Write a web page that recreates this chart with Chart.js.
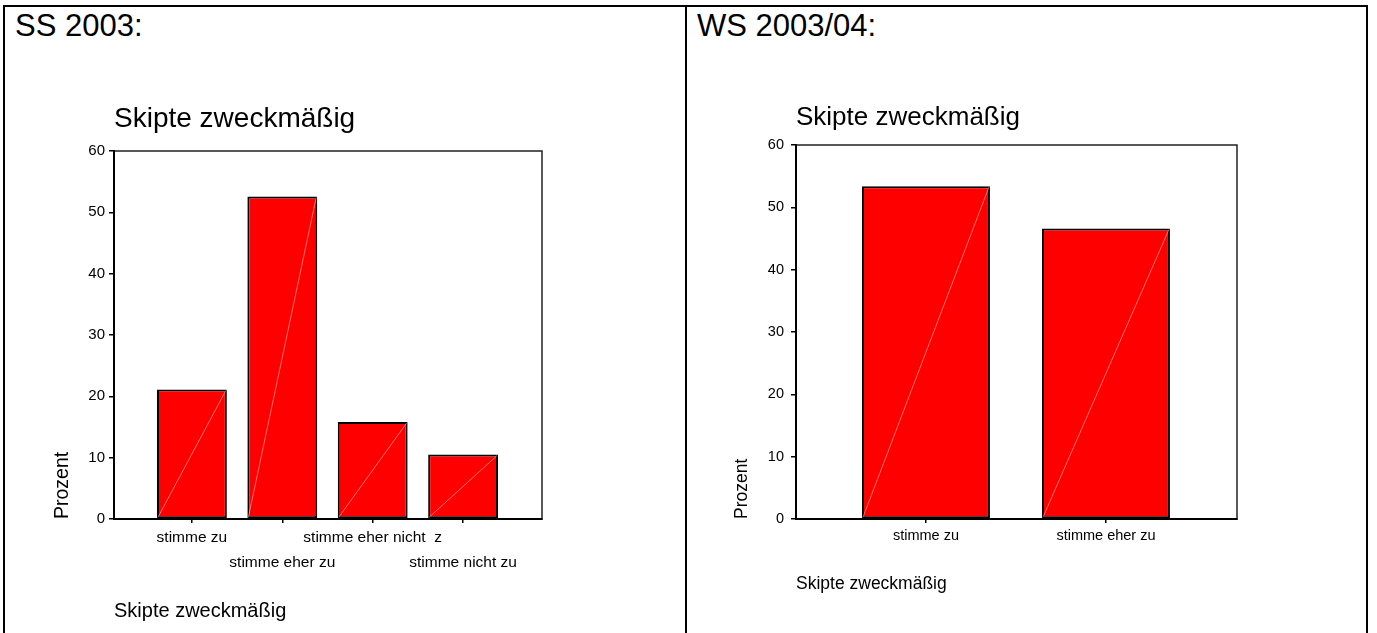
<!DOCTYPE html>
<html>
<head>
<meta charset="utf-8">
<script src="https://cdn.jsdelivr.net/npm/chart.js@4"></script>
<style>
  html, body { margin: 0; padding: 0; background: #fff; overflow: hidden; }
  body { width: 1377px; height: 633px; position: relative; font-family: "Liberation Sans", Arial, sans-serif; }
  .box { position: absolute; border: 2px solid #000; border-bottom: none; }
  .head { position: absolute; font-size: 31px; line-height: 1; color: #000; white-space: pre; }
  canvas { position: absolute; }
</style>
</head>
<body>
<div class="box" style="left:3px; top:5px; width:1361px; height:700px;"></div>
<div style="position:absolute; left:685px; top:5px; width:2px; height:700px; background:#000;"></div>
<div class="head" style="left:15px; top:10px;">SS 2003:</div>
<div class="head" style="left:697px; top:10px;">WS 2003/04:</div>
<canvas id="ss" width="676" height="577" style="left:5px; top:56px;"></canvas>
<canvas id="ws" width="680" height="577" style="left:687px; top:56px;"></canvas>
<script>
const chartTitle = 'Skipte zweckmäßig';
const yTitle = 'Prozent';
const yTicks = [0, 10, 20, 30, 40, 50, 60];

const ssCategories = ['stimme zu', 'stimme eher zu', 'stimme eher nicht  z', 'stimme nicht zu'];
const ssPercent = [21.1, 52.6, 15.8, 10.5];

const wsCategories = ['stimme zu', 'stimme eher zu'];
const wsPercent = [53.4, 46.6];

Chart.defaults.font.family = '"Liberation Sans", Arial, sans-serif';
Chart.defaults.color = '#000';

// plot frame + the faint diagonal SPSS leaves in each bar
const barDecor = {
  id: 'barDecor',
  beforeDraw(chart) {
    const a = chart.chartArea, ctx = chart.ctx;
    ctx.save();
    ctx.strokeStyle = '#222';
    ctx.lineWidth = 1.5;
    ctx.strokeRect(a.left, a.top, a.right - a.left, a.bottom - a.top);
    ctx.restore();
  },
  afterDatasetsDraw(chart) {
    const ctx = chart.ctx;
    ctx.save();
    ctx.strokeStyle = 'rgba(255,200,200,0.7)';
    ctx.lineWidth = 0.8;
    chart.getDatasetMeta(0).data.forEach(bar => {
      const {x, y, base, width} = bar.getProps(['x', 'y', 'base', 'width'], true);
      ctx.beginPath();
      ctx.moveTo(x - width / 2 + 1, base - 1);
      ctx.lineTo(x + width / 2 - 1, y + 1);
      ctx.stroke();
    });
    ctx.restore();
  }
};

function buildChart(id, cats, vals, cfg) {
  const points = vals.map((v, i) => ({x: i + 1, y: v}));
  return new Chart(document.getElementById(id), {
    type: 'bar',
    data: {
      datasets: [{
        data: points,
        backgroundColor: '#ff0000',
        borderColor: '#000',
        borderWidth: 2,
        borderSkipped: false,
        barPercentage: cfg.barPct,
        categoryPercentage: 1
      }]
    },
    options: {
      responsive: false,
      animation: false,
      layout: { padding: { left: 0, top: 0, right: cfg.padRight, bottom: 0 } },
      plugins: {
        legend: { display: false },
        tooltip: { enabled: false },
        title: {
          display: true,
          text: chartTitle,
          align: 'start',
          fullSize: false,
          color: '#000',
          font: { size: cfg.titleSize, weight: 'normal', lineHeight: 1.2 },
          padding: { top: cfg.titleTop, bottom: cfg.titleBottom }
        }
      },
      scales: {
        x: {
          type: 'linear',
          min: cfg.xMin,
          max: cfg.xMax,
          offset: false,
          afterBuildTicks: s => { s.ticks = cats.map((c, i) => ({value: i + 1})); },
          afterFit: s => { s.height = 114; },
          ticks: {
            autoSkip: false,
            maxRotation: 0,
            minRotation: 0,
            padding: cfg.xTickPad,
            color: '#000',
            font: { size: cfg.xTickSize, lineHeight: cfg.xTickLH },
            callback: (v, i) => (cfg.stagger && i % 2 === 1) ? ['', cats[i]] : cats[i]
          },
          grid: { display: true, drawOnChartArea: false, drawTicks: true, tickLength: 4, color: '#000', lineWidth: 1.5, offset: false },
          border: { display: true, color: '#000', width: 2 },
          title: {
            display: true,
            text: chartTitle,
            align: 'start',
            color: '#000',
            font: { size: cfg.xTitleSize, lineHeight: 1.2 },
            padding: { top: 0, bottom: cfg.xTitlePad }
          }
        },
        y: {
          min: 0,
          max: 60,
          afterBuildTicks: s => { s.ticks = yTicks.map(v => ({value: v})); },
          afterFit: s => { s.width = 109; },
          ticks: { padding: cfg.yTickPad, color: '#000', font: { size: cfg.yTickSize } },
          grid: { display: true, drawOnChartArea: false, drawTicks: true, tickLength: 5, color: '#000', lineWidth: 1.5 },
          border: { display: true, color: '#000', width: 2 },
          title: {
            display: true,
            text: yTitle,
            align: 'start',
            color: '#000',
            font: { size: cfg.yTitleSize, lineHeight: 1.2 },
            padding: { top: cfg.yTitlePad, bottom: 0 }
          }
        }
      }
    },
    plugins: [barDecor]
  });
}

buildChart('ss', ssCategories, ssPercent, {
  barPct: 0.773, padRight: 139, xMin: 0.138, xMax: 4.873,
  titleSize: 28, titleTop: 46, titleBottom: 15.4,
  xTickSize: 15.5, xTickLH: 25 / 15.5, xTickPad: 2, stagger: true,
  xTitleSize: 20, xTitlePad: 10,
  yTickSize: 15, yTickPad: 4,
  yTitleSize: 19.5, yTitlePad: 46
});

buildChart('ws', wsCategories, wsPercent, {
  barPct: 0.711, padRight: 130, xMin: 0.278, xMax: 2.728,
  titleSize: 26, titleTop: 46, titleBottom: 11.8,
  xTickSize: 14.5, xTickLH: 1.2, xTickPad: 4, stagger: false,
  xTitleSize: 17.5, xTitlePad: 38.5,
  yTickSize: 14.5, yTickPad: 7,
  yTitleSize: 17.5, yTitlePad: 45
});
</script>
</body>
</html>
